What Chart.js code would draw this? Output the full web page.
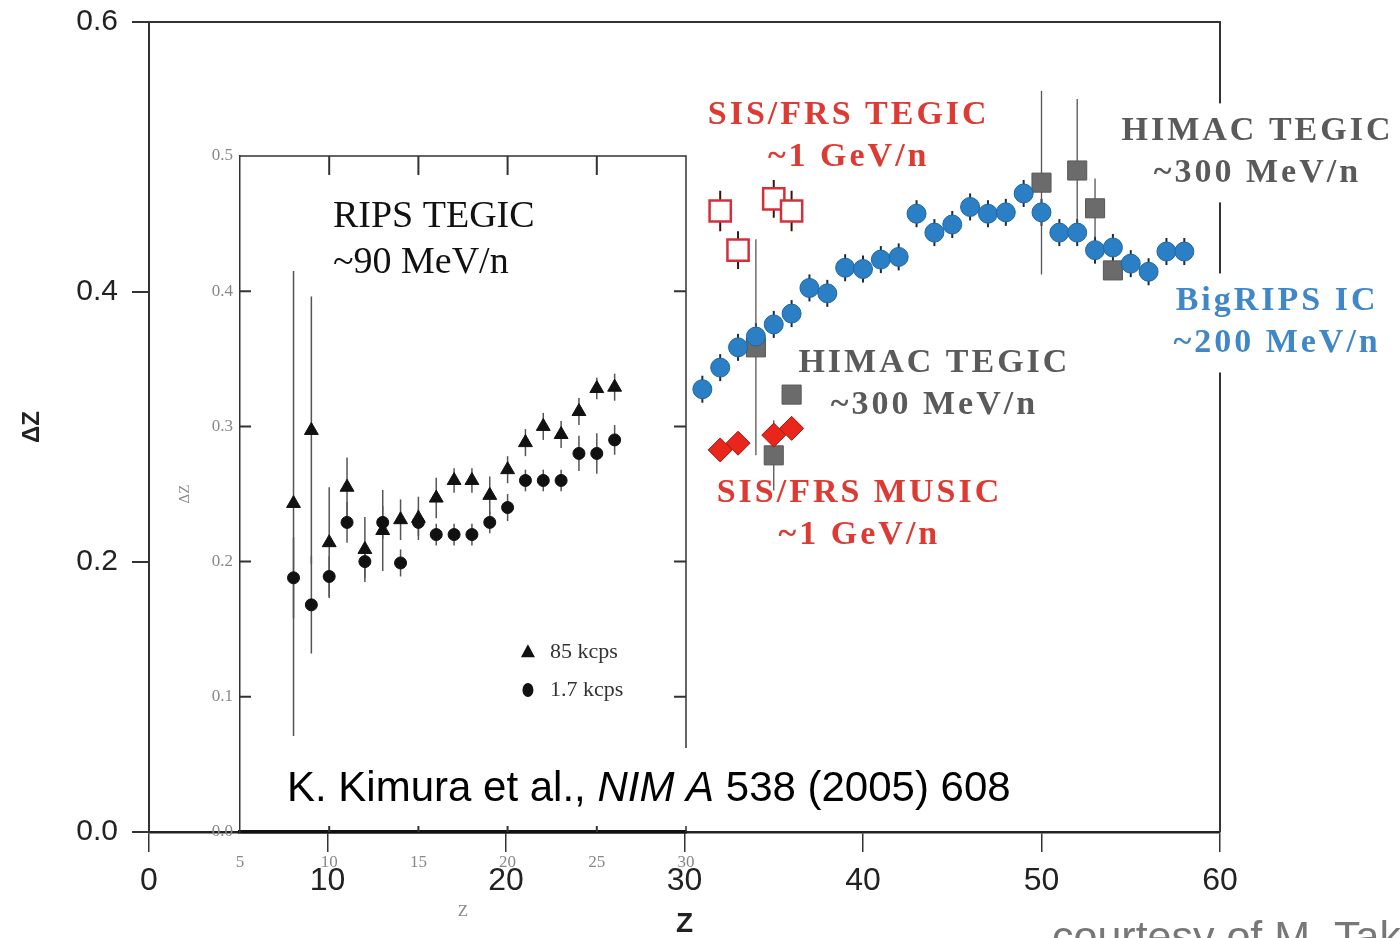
<!DOCTYPE html>
<html>
<head>
<meta charset="utf-8">
<title>ΔZ vs Z</title>
<script src="https://cdn.jsdelivr.net/npm/chart.js@4.4.1/dist/chart.umd.min.js"></script>
<style>
  html, body { margin: 0; padding: 0; background: #fff; }
  #wrap { position: relative; width: 1400px; height: 938px; overflow: hidden; }
  #wrap canvas { position: absolute; left: 0; top: 0; }
</style>
</head>
<body>
<div id="wrap">
  <canvas id="main" width="1400" height="938"></canvas>
  <canvas id="inset" width="1400" height="938"></canvas>
</div>
<script>
const SANS = '"Liberation Sans", Arial, sans-serif';
const SERIF = '"Liberation Serif", "Times New Roman", serif';
const RED = '#dc3a33';
const GREY = '#5a5a5a';
const BLUE = '#3f87c7';

// ---- main panel ----
const mainXTicks = [0, 10, 20, 30, 40, 50, 60];
const mainYTicks = [0, 0.2, 0.4, 0.6];

// BigRIPS IC, ~200 MeV/n
const bigripsZ = [31, 32, 33, 34, 35, 36, 37, 38, 39, 40, 41, 42, 43, 44,
                  45, 46, 47, 48, 49, 50, 51, 52, 53, 54, 55, 56, 57, 58];
const bigripsDz = [0.328, 0.344, 0.359, 0.367, 0.376, 0.384, 0.403, 0.399, 0.418, 0.417,
                   0.424, 0.426, 0.458, 0.444, 0.450, 0.463, 0.458, 0.459, 0.473, 0.459,
                   0.444, 0.444, 0.431, 0.433, 0.421, 0.415, 0.430, 0.430];
const bigripsErr = [0.010, 0.010, 0.010, 0.010, 0.010, 0.010, 0.010, 0.010, 0.010, 0.010,
                    0.010, 0.010, 0.010, 0.010, 0.010, 0.010, 0.010, 0.010, 0.010, 0.010,
                    0.010, 0.010, 0.010, 0.010, 0.010, 0.010, 0.010, 0.010];

// HIMAC TEGIC, ~300 MeV/n
const himacZ = [34, 35, 36, 50, 52, 53, 54];
const himacDz = [0.359, 0.279, 0.324, 0.481, 0.490, 0.462, 0.416];
const himacErr = [0.080, 0.026, 0, 0.068, 0.053, 0.022, 0];

// SIS/FRS TEGIC, ~1 GeV/n
const sisTegicZ = [32, 33, 35, 36];
const sisTegicDz = [0.460, 0.431, 0.469, 0.460];
const sisTegicErr = [0.015, 0.014, 0.014, 0.015];

// SIS/FRS MUSIC, ~1 GeV/n
const sisMusicZ = [32, 33, 35, 36];
const sisMusicDz = [0.283, 0.288, 0.294, 0.299];

// ---- inset: RIPS TEGIC, ~90 MeV/n (Kimura et al.) ----
const insetXTicks = [5, 10, 15, 20, 25, 30];
const insetYTicks = [0, 0.1, 0.2, 0.3, 0.4, 0.5];
const ripsZ = [8, 9, 10, 11, 12, 13, 14, 15, 16, 17, 18, 19, 20, 21, 22, 23, 24, 25, 26];
const rips85 = [0.243, 0.297, 0.214, 0.255, 0.209, 0.223, 0.231, 0.232, 0.247, 0.260,
                0.260, 0.249, 0.268, 0.288, 0.300, 0.294, 0.311, 0.328, 0.329];
const rips85Err = [0.172, 0.099, 0.041, 0.022, 0.024, 0.030, 0.015, 0.016, 0.015, 0.009,
                   0.009, 0.014, 0.010, 0.010, 0.010, 0.010, 0.010, 0.008, 0.010];
const rips17 = [0.188, 0.168, 0.189, 0.229, 0.200, 0.229, 0.199, 0.229, 0.220, 0.220,
                0.220, 0.229, 0.240, 0.260, 0.260, 0.260, 0.280, 0.280, 0.290];
const rips17Err = [0.030, 0.036, 0.015, 0.015, 0.012, 0.012, 0.010, 0.010, 0.008, 0.008,
                   0.008, 0.008, 0.010, 0.008, 0.008, 0.008, 0.013, 0.015, 0.011];

// text placed in data coordinates (Z, ΔZ)
const mainNotes = [
  { text: ['SIS/FRS TEGIC', '~1 GeV/n'], z: 39.2, dz: 0.531, color: RED },
  { text: ['HIMAC TEGIC', '~300 MeV/n'], z: 62.1, dz: 0.519, color: GREY, box: true },
  { text: ['BigRIPS IC', '~200 MeV/n'], z: 63.2, dz: 0.393, color: BLUE, box: true },
  { text: ['HIMAC TEGIC', '~300 MeV/n'], z: 44.0, dz: 0.347, color: GREY },
  { text: ['SIS/FRS MUSIC', '~1 GeV/n'], z: 39.8, dz: 0.251, color: RED }
];

const pts = (xs, ys) => xs.map((x, i) => ({ x, y: ys[i] }));
const fixTicks = list => scale => { scale.ticks = list.map(v => ({ value: v })); };
// pin the axis box size and drop the label overhang so the plot frame sits where we want it
const fitY = w => s => { s.width = w; s.paddingTop = 0; s.paddingBottom = 0; };
const fitX = h => s => { s.height = h; s.paddingLeft = 0; s.paddingRight = 0; };

// vertical error bars from dataset.errors, drawn under the markers
const errorBars = {
  id: 'errorBars',
  beforeDatasetsDraw(chart) {
    const { ctx, scales: { x: xs, y: ys } } = chart;
    chart.data.datasets.forEach((ds, i) => {
      if (!ds.errors || !chart.isDatasetVisible(i)) return;
      ctx.save();
      ctx.strokeStyle = ds.errorColor || '#333';
      ctx.lineWidth = ds.errorWidth || 1.5;
      ds.data.forEach((p, j) => {
        const e = ds.errors[j];
        if (!e) return;
        const px = xs.getPixelForValue(p.x);
        ctx.beginPath();
        ctx.moveTo(px, ys.getPixelForValue(p.y + e));
        ctx.lineTo(px, ys.getPixelForValue(p.y - e));
        ctx.stroke();
      });
      ctx.restore();
    });
  }
};

const mainDecor = {
  id: 'mainDecor',
  beforeDraw(chart) {
    const ctx = chart.ctx;
    ctx.save();
    ctx.fillStyle = '#fff';
    ctx.fillRect(0, 0, chart.width, chart.height);
    ctx.restore();
  },
  afterDraw(chart) {
    const { ctx, chartArea: a, scales: { x: xs, y: ys } } = chart;
    ctx.save();
    // top and right frame
    ctx.strokeStyle = '#333';
    ctx.lineWidth = 2;
    ctx.beginPath();
    ctx.moveTo(a.left, a.top);
    ctx.lineTo(a.right, a.top);
    ctx.lineTo(a.right, a.bottom);
    ctx.stroke();

    ctx.font = `bold 34px ${SERIF}`;
    ctx.letterSpacing = '3px';
    ctx.textAlign = 'center';
    ctx.textBaseline = 'middle';
    const gap = 42;
    mainNotes.forEach(n => {
      const cx = xs.getPixelForValue(n.z);
      const cy = ys.getPixelForValue(n.dz);
      if (n.box) {
        const w = Math.max(...n.text.map(t => ctx.measureText(t).width)) + 20;
        ctx.fillStyle = '#fff';
        ctx.fillRect(cx - w / 2, cy - 28, w, gap * (n.text.length - 1) + 57);
      }
      ctx.fillStyle = n.color;
      n.text.forEach((t, k) => ctx.fillText(t, cx, cy + k * gap));
    });
    ctx.letterSpacing = '0px';

    // credit line, running off the bottom edge
    ctx.textAlign = 'left';
    ctx.textBaseline = 'alphabetic';
    ctx.font = `43px ${SANS}`;
    ctx.fillStyle = '#777';
    ctx.fillText('courtesy of M. Takechi', 1052, 951);
    ctx.restore();
  }
};

new Chart(document.getElementById('main'), {
  type: 'scatter',
  data: {
    datasets: [
      {
        label: 'BigRIPS IC',
        data: pts(bigripsZ, bigripsDz),
        errors: bigripsErr,
        errorColor: '#1b2b3c',
        errorWidth: 2,
        pointStyle: 'circle',
        pointRadius: 9.5,
        backgroundColor: '#2b80c5',
        borderColor: '#1f66a3',
        borderWidth: 1
      },
      {
        label: 'SIS/FRS MUSIC',
        data: pts(sisMusicZ, sisMusicDz),
        pointStyle: 'rectRot',
        pointRadius: 12,
        backgroundColor: '#e8261c',
        borderColor: '#a3150f',
        borderWidth: 1
      },
      {
        label: 'SIS/FRS TEGIC',
        data: pts(sisTegicZ, sisTegicDz),
        errors: sisTegicErr,
        errorColor: '#3a1210',
        errorWidth: 2,
        pointStyle: 'rect',
        pointRadius: 15,
        backgroundColor: '#fff',
        borderColor: '#d3303a',
        borderWidth: 2.5
      },
      {
        label: 'HIMAC TEGIC',
        data: pts(himacZ, himacDz),
        errors: himacErr,
        errorColor: '#555',
        errorWidth: 1.3,
        pointStyle: 'rect',
        pointRadius: 13.5,
        backgroundColor: '#6b6b6b',
        borderColor: '#575757',
        borderWidth: 1
      }
    ]
  },
  options: {
    responsive: false,
    animation: false,
    events: [],
    layout: { padding: { top: 22, right: 180, left: 0, bottom: 0 } },
    plugins: { legend: { display: false }, tooltip: { enabled: false } },
    scales: {
      x: {
        type: 'linear',
        min: 0,
        max: 60,
        afterBuildTicks: fixTicks(mainXTicks),
        afterFit: fitX(106),
        grid: { drawOnChartArea: false, drawTicks: true, tickLength: 20, color: '#333', lineWidth: 1.5 },
        border: { display: true, color: '#222', width: 2.5 },
        ticks: { font: { family: SANS, size: 32 }, color: '#222', padding: 10, maxRotation: 0 },
        title: { display: true, text: 'Z', color: '#222', font: { family: SANS, size: 28, weight: 'bold', lineHeight: 1 }, padding: { top: 0, bottom: 0 } }
      },
      y: {
        type: 'linear',
        min: 0,
        max: 0.6,
        afterBuildTicks: fixTicks(mainYTicks),
        afterFit: fitY(149),
        grid: { drawOnChartArea: false, drawTicks: true, tickLength: 17, color: '#333', lineWidth: 2 },
        border: { display: true, color: '#333', width: 2 },
        ticks: { font: { family: SANS, size: 30 }, color: '#222', padding: 14, callback: v => v.toFixed(1) },
        title: { display: true, text: 'ΔZ', color: '#222', font: { family: SANS, size: 24, weight: 'bold' }, padding: { top: 18, bottom: 0 } }
      }
    }
  },
  plugins: [mainDecor, errorBars]
});

// ---- inset panel, laid over the left part of the main frame ----
const insetDecor = {
  id: 'insetDecor',
  beforeDraw(chart) {
    const { ctx, chartArea: a } = chart;
    ctx.save();
    ctx.fillStyle = '#fff';
    ctx.fillRect(a.left, a.top, a.right - a.left, a.bottom - a.top);
    ctx.restore();
  },
  beforeDatasetsDraw(chart) {
    const { ctx, chartArea: a, scales: { x: xs, y: ys } } = chart;
    ctx.save();
    ctx.strokeStyle = '#333';
    ctx.lineWidth = 1.5;
    ctx.beginPath();
    ctx.moveTo(a.left, a.top);
    ctx.lineTo(a.right, a.top);
    ctx.lineTo(a.right, a.bottom);
    ctx.stroke();
    // inward tick marks on all four sides
    ctx.lineWidth = 2;
    ctx.beginPath();
    insetXTicks.slice(1, -1).forEach(v => {
      const px = xs.getPixelForValue(v);
      ctx.moveTo(px, a.top); ctx.lineTo(px, a.top + 19);
      ctx.moveTo(px, a.bottom); ctx.lineTo(px, a.bottom - 12);
    });
    insetYTicks.slice(1, -1).forEach(v => {
      const py = ys.getPixelForValue(v);
      ctx.moveTo(a.left, py); ctx.lineTo(a.left + 11, py);
      ctx.moveTo(a.right, py); ctx.lineTo(a.right - 12, py);
    });
    ctx.stroke();
    ctx.restore();
  },
  afterDraw(chart) {
    const { ctx, scales: { x: xs, y: ys } } = chart;
    ctx.save();
    ctx.fillStyle = '#111';
    ctx.textAlign = 'left';
    ctx.textBaseline = 'middle';
    ctx.font = `38px ${SERIF}`;
    const tx = xs.getPixelForValue(10.21);
    ctx.fillText('RIPS TEGIC', tx, ys.getPixelForValue(0.455));
    ctx.fillText('~90 MeV/n', tx, ys.getPixelForValue(0.421));

    // legend
    const mx = xs.getPixelForValue(21.14);
    const lx = xs.getPixelForValue(22.38);
    const y1 = ys.getPixelForValue(0.133);
    const y2 = ys.getPixelForValue(0.105);
    ctx.beginPath();
    ctx.moveTo(mx, y1 - 8); ctx.lineTo(mx + 7, y1 + 5); ctx.lineTo(mx - 7, y1 + 5);
    ctx.closePath();
    ctx.fill();
    ctx.beginPath();
    ctx.ellipse(mx, y2, 5.5, 7, 0, 0, Math.PI * 2);
    ctx.fill();
    ctx.font = `22px ${SERIF}`;
    ctx.fillStyle = '#333';
    ctx.fillText('85 kcps', lx, y1);
    ctx.fillText('1.7 kcps', lx, y2);

    // reference line on a white strip
    ctx.fillStyle = '#fff';
    ctx.fillRect(262, 748, 775, 78);
    ctx.fillStyle = '#000';
    ctx.textBaseline = 'alphabetic';
    let x = 287;
    [['K. Kimura et al., ', false], ['NIM A', true], [' 538 (2005) 608', false]].forEach(([t, it]) => {
      ctx.font = `${it ? 'italic ' : ''}42px ${SANS}`;
      ctx.fillText(t, x, 801);
      x += ctx.measureText(t).width;
    });
    ctx.restore();
  }
};

new Chart(document.getElementById('inset'), {
  type: 'scatter',
  data: {
    datasets: [
      {
        label: '85 kcps',
        data: pts(ripsZ, rips85),
        errors: rips85Err,
        errorColor: '#555',
        errorWidth: 1.5,
        pointStyle: 'triangle',
        pointRadius: 8,
        backgroundColor: '#111',
        borderColor: '#111',
        borderWidth: 1
      },
      {
        label: '1.7 kcps',
        data: pts(ripsZ, rips17),
        errors: rips17Err,
        errorColor: '#555',
        errorWidth: 1.5,
        pointStyle: 'circle',
        pointRadius: 6,
        backgroundColor: '#111',
        borderColor: '#111',
        borderWidth: 1
      }
    ]
  },
  options: {
    responsive: false,
    animation: false,
    events: [],
    layout: { padding: { top: 156, right: 714, left: 0, bottom: 0 } },
    plugins: { legend: { display: false }, tooltip: { enabled: false } },
    scales: {
      x: {
        type: 'linear',
        min: 5,
        max: 30,
        afterBuildTicks: fixTicks(insetXTicks),
        afterFit: fitX(106),
        grid: { drawOnChartArea: false, drawTicks: false },
        border: { display: true, color: '#111', width: 3.5 },
        ticks: { font: { family: SERIF, size: 17 }, color: '#888', padding: 20, maxRotation: 0 },
        title: { display: true, text: 'Z', color: '#888', font: { family: SERIF, size: 17 }, padding: { top: 0, bottom: 16 } }
      },
      y: {
        type: 'linear',
        min: 0,
        max: 0.5,
        afterBuildTicks: fixTicks(insetYTicks),
        afterFit: fitY(240),
        grid: { drawOnChartArea: false, drawTicks: false },
        border: { display: true, color: '#333', width: 1.5 },
        ticks: { font: { family: SERIF, size: 17 }, color: '#888', padding: 7, callback: v => v.toFixed(1) },
        title: { display: true, text: 'ΔZ', color: '#888', font: { family: SERIF, size: 15 }, padding: { top: 176, bottom: 0 } }
      }
    }
  },
  plugins: [insetDecor, errorBars]
});
</script>
</body>
</html>
